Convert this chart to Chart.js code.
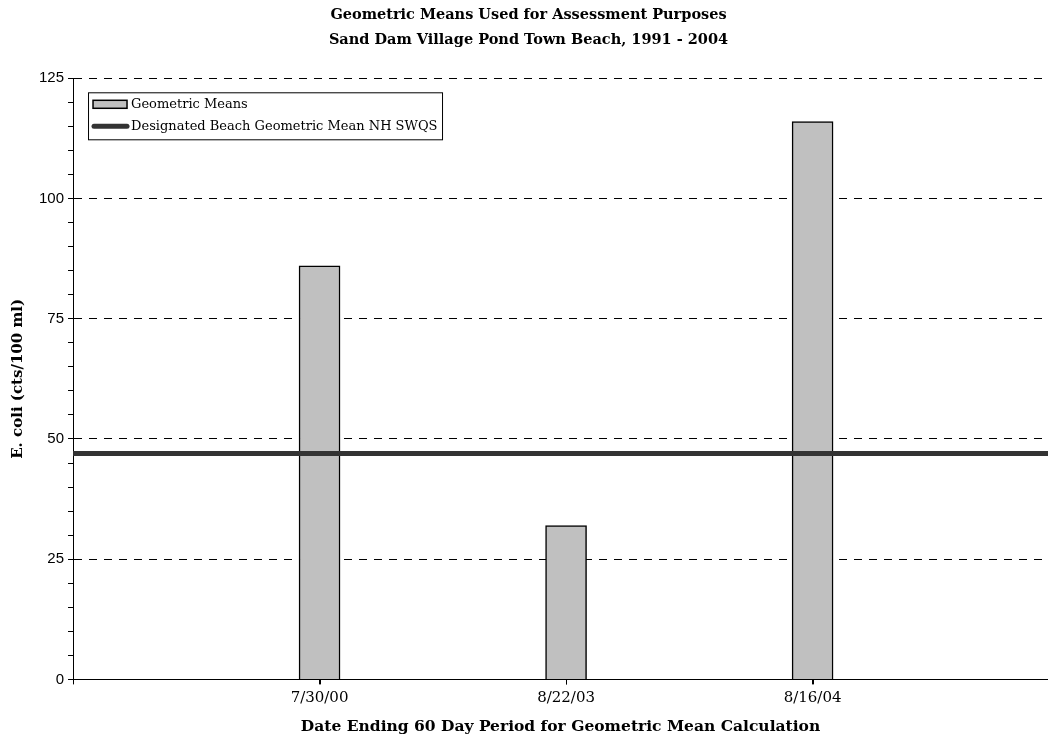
<!DOCTYPE html>
<html lang="en">
<head>
  <meta charset="UTF-8" />
  <title>Geometric Means - Sand Dam Village Pond Town Beach</title>
  <script src="https://cdn.jsdelivr.net/npm/chart.js"></script>
  <style>
    html, body { margin: 0; padding: 0; background: #fff; overflow: hidden; }
    #wrap { width: 1048px; height: 740px; }
  </style>
</head>
<body>
  <div id="wrap"><canvas id="chart"></canvas></div>

  <script>
    // data
    const dates = ['7/30/00', '8/22/03', '8/16/04'];
    const geoMeans = [86, 32, 116];
    const standard = 47;          // NH SWQS designated beach geometric mean
    const yTicks = [0, 25, 50, 75, 100, 125];
    const xRange = [0, 3.955];    // axis span, bars sit at 1..3

    const serif = "'DejaVu Serif', serif";
    const sans = "'Liberation Sans', Arial, sans-serif";

    // legend box drawn inside the plot, like the original
    const boxLegend = {
      id: 'boxLegend',
      afterDraw(chart) {
        const { ctx, chartArea, scales } = chart;

        // small tick marks under each date
        ctx.save();
        ctx.strokeStyle = '#000';
        ctx.lineWidth = 1;
        dates.forEach((d, i) => {
          const px = Math.round(scales.x.getPixelForValue(i + 1)) + 0.5;
          ctx.beginPath();
          ctx.moveTo(px, chartArea.bottom);
          ctx.lineTo(px, chartArea.bottom + 5);
          ctx.stroke();
        });
        ctx.restore();

        const x = chartArea.left + 15, y = chartArea.top + 14;
        const w = 354, h = 47;
        ctx.save();
        ctx.fillStyle = '#fff';
        ctx.fillRect(x, y, w, h);
        ctx.strokeStyle = '#000';
        ctx.lineWidth = 1;
        ctx.strokeRect(x + 0.5, y + 0.5, w, h);
        ctx.font = '13px ' + serif;
        ctx.textBaseline = 'middle';
        const ds = chart.data.datasets;
        // bar swatch
        ctx.fillStyle = '#c0c0c0';
        ctx.fillRect(x + 5, y + 8, 34, 8);
        ctx.strokeStyle = '#000';
        ctx.lineWidth = 1.5;
        ctx.strokeRect(x + 5, y + 8, 34, 8);
        ctx.fillStyle = '#000';
        ctx.fillText(ds[0].label, x + 43, y + 12);
        // line swatch
        ctx.strokeStyle = '#333';
        ctx.lineWidth = 5;
        ctx.lineCap = 'round';
        ctx.beginPath();
        ctx.moveTo(x + 6, y + 34);
        ctx.lineTo(x + 39, y + 34);
        ctx.stroke();
        ctx.fillText(ds[1].label, x + 43, y + 34);
        ctx.restore();
      }
    };

    new Chart(document.getElementById('chart'), {
      type: 'bar',
      data: {
        datasets: [
          {
            label: 'Geometric Means',
            data: dates.map((d, i) => ({ x: i + 1, y: geoMeans[i] })),
            backgroundColor: '#c0c0c0',
            borderColor: '#000',
            borderWidth: 1.5,
            barThickness: 41,
            order: 1
          },
          {
            type: 'line',
            label: 'Designated Beach Geometric Mean NH SWQS',
            data: xRange.map(x => ({ x, y: standard })),
            borderColor: '#333',
            borderWidth: 5,
            pointRadius: 0,
            order: 0
          }
        ]
      },
      options: {
        responsive: true,
        maintainAspectRatio: false,
        animation: false,
        layout: { padding: { left: 9, top: 0, right: 0, bottom: 1 } },
        plugins: {
          legend: { display: false },
          tooltip: { enabled: false },
          title: {
            display: true,
            text: ['Geometric Means Used for Assessment Purposes',
                   'Sand Dam Village Pond Town Beach, 1991 - 2004'],
            color: '#000',
            font: { family: serif, size: 14.5, weight: 'bold', lineHeight: 1.7 },
            padding: { top: 3, bottom: 26 }
          }
        },
        scales: {
          x: {
            type: 'linear',
            offset: false,
            min: xRange[0],
            max: xRange[1],
            afterBuildTicks: s => { s.ticks = s.ticks.filter(t => Number.isInteger(t.value)); },
            ticks: {
              stepSize: 1,
              autoSkip: false,
              maxRotation: 0,
              color: '#000',
              font: { family: serif, size: 15 },
              padding: 5,
              callback: v => dates[v - 1] || ''
            },
            grid: {
              offset: false,
              drawOnChartArea: false,
              color: '#000',
              tickColor: '#000',
              tickLength: 5,
              lineWidth: 1
            },
            border: { color: '#000', width: 1 },
            title: {
              display: true,
              text: 'Date Ending 60 Day Period for Geometric Mean Calculation',
              color: '#000',
              font: { family: serif, size: 15.5, weight: 'bold' },
              padding: { top: 5, bottom: 3 }
            }
          },
          y: {
            min: yTicks[0],
            max: yTicks[yTicks.length - 1],
            ticks: {
              stepSize: 5,
              autoSkip: false,
              color: '#000',
              font: { family: sans, size: 15 },
              padding: 4,
              callback: v => yTicks.includes(v) ? v : ''
            },
            grid: {
              color: c => (yTicks.includes(c.tick.value) && c.tick.value !== 0) ? '#000' : 'rgba(0,0,0,0)',
              tickColor: '#000',
              tickLength: 5,
              lineWidth: 1
            },
            border: { color: '#000', width: 1, dash: [8, 7] },
            title: {
              display: true,
              text: 'E. coli (cts/100 ml)',
              color: '#000',
              font: { family: serif, size: 15, weight: 'bold' },
              padding: { top: 0, bottom: 8 }
            }
          }
        }
      },
      plugins: [boxLegend]
    });
  </script>
</body>
</html>
